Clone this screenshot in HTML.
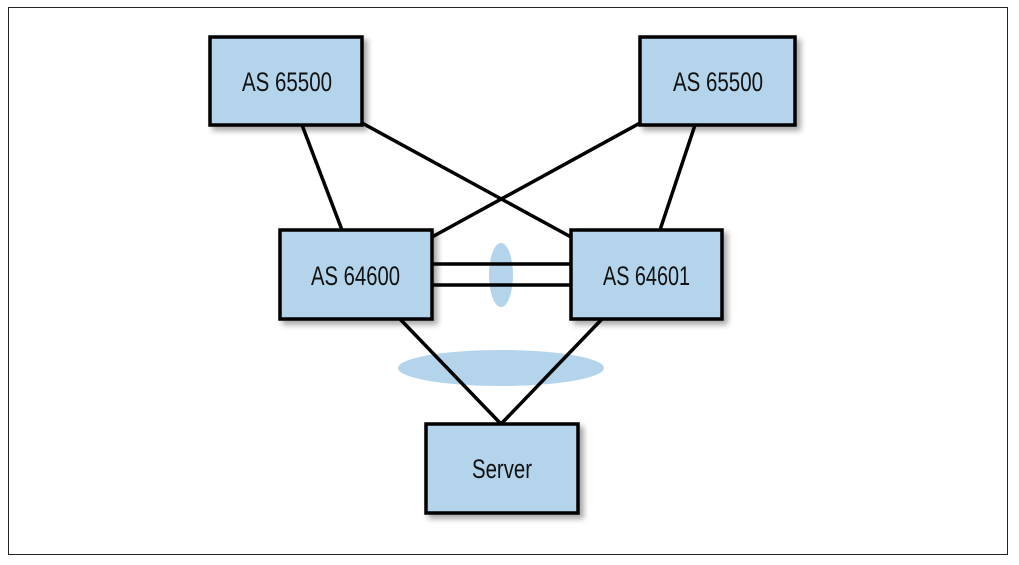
<!DOCTYPE html>
<html><head><style>
html,body{margin:0;padding:0;background:#fff;width:1019px;height:565px;overflow:hidden}
text{font-family:"Liberation Sans",sans-serif;font-size:27px;fill:#111}
</style></head><body>
<svg width="1019" height="565" viewBox="0 0 1019 565" xmlns="http://www.w3.org/2000/svg">
<defs><filter id="sh" x="-10%" y="-10%" width="130%" height="130%"><feDropShadow dx="4" dy="4" stdDeviation="3" flood-color="#000" flood-opacity="0.35"/></filter></defs>
<rect x="8.5" y="7.5" width="999" height="547" fill="none" stroke="#222" stroke-width="1"/>
<ellipse cx="501" cy="368" rx="103" ry="18" fill="#b3d4ea"/>
<ellipse cx="501" cy="275" rx="12" ry="32" fill="#b3d4ea"/>
<g stroke="#000" stroke-width="3.5" fill="none">
<line x1="302" y1="125" x2="342" y2="230"/>
<line x1="362" y1="123" x2="571" y2="237"/>
<line x1="640" y1="123" x2="432" y2="237"/>
<line x1="695" y1="125" x2="660" y2="230"/>
<line x1="432" y1="264" x2="571" y2="264"/>
<line x1="432" y1="285" x2="571" y2="285"/>
<line x1="400" y1="319" x2="501" y2="424"/>
<line x1="602" y1="319" x2="501" y2="424"/>
</g>
<g fill="#b3d4ea" stroke="#000" stroke-width="3.5" filter="url(#sh)">
<rect x="210" y="37" width="152" height="88"/>
<rect x="640" y="37" width="155" height="88"/>
<rect x="280" y="230" width="152" height="89"/>
<rect x="571" y="230" width="151" height="89"/>
<rect x="426" y="424" width="152" height="89"/>
</g>
<text x="242" y="91" textLength="90" lengthAdjust="spacingAndGlyphs">AS 65500</text>
<text x="673" y="91" textLength="90" lengthAdjust="spacingAndGlyphs">AS 65500</text>
<text x="311" y="285" textLength="89" lengthAdjust="spacingAndGlyphs">AS 64600</text>
<text x="603" y="285" textLength="87" lengthAdjust="spacingAndGlyphs">AS 64601</text>
<text x="472" y="478" textLength="60" lengthAdjust="spacingAndGlyphs">Server</text>
</svg>
</body></html>
